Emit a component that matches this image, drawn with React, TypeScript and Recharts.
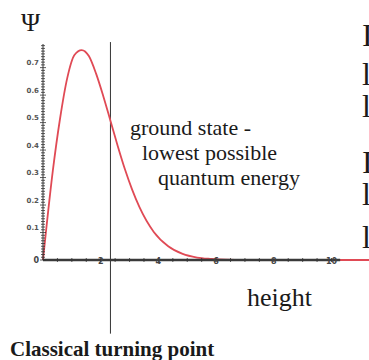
import React from "react";
import { LineChart, Line, XAxis, YAxis, ReferenceLine } from "recharts";

// ground-state wavefunction of a particle bouncing on a floor
const heights = [0, 0.1, 0.34, 0.59, 0.84, 1.09, 1.34, 1.59, 1.84, 2.09, 2.34, 2.59, 2.84, 3.09, 3.34, 3.84, 4.34, 4.84, 5.34, 5.84, 6.34, 7, 8, 9, 10, 10.3, 11.3];
const psi = [0, 0.1, 0.324, 0.514, 0.662, 0.746, 0.764, 0.742, 0.678, 0.596, 0.506, 0.415, 0.33, 0.256, 0.193, 0.102, 0.05, 0.022, 0.009, 0.004, 0.001, 0, 0, 0, 0, 0, 0];
// the floor (height axis) runs over the curve's tail and stops just past 10
const floor = [0, 0, 0, 0, 0, 0, 0, 0, 0, 0, 0, 0, 0, 0, 0, 0, 0, 0, 0, 0, 0, 0, 0, 0, 0, 0, null];

const turningPoint = 2.338;
const xLabels = [2, 4, 6, 8, 10];
const xTicks = [0.5, 1, 1.5, 2, 2.5, 3, 3.5, 4, 4.5, 5, 5.5, 6, 6.5, 7, 7.5, 8, 8.5, 9, 9.5, 10];
const yLabels = [0, 0.1, 0.2, 0.3, 0.4, 0.5, 0.6, 0.7];
// fine ruler marks every 0.01 along the psi axis
const yTicks = Array.from({ length: 79 }, (_, i) => i / 100);

const data = heights.map((h, i) => ({ h, psi: psi[i], floor: floor[i] }));

const serif = "Liberation Serif, DejaVu Serif, serif";
const tickFont = "DejaVu Sans, sans-serif";

function YTick({ x, y, payload }: any) {
  const v = payload.value as number;
  const major = yLabels.some((l) => Math.abs(l - v) < 1e-6);
  return (
    <g>
      <line x1={x - (major ? 3 : 2)} x2={x + (major ? 3 : 2)} y1={y} y2={y} stroke="#333" strokeWidth={0.8} />
      {major && v > 0 && (
        <text x={x - 4} y={y - 2.5} textAnchor="end" fontSize={7} fontWeight={700} fill="#555" style={{ fontFamily: tickFont }}>
          {v.toFixed(1)}
        </text>
      )}
      {v === 0 && (
        <text x={x - 4} y={y + 3} textAnchor="end" fontSize={8} fontWeight={700} fill="#444" style={{ fontFamily: tickFont }}>
          0
        </text>
      )}
    </g>
  );
}

function XTick({ x, y, payload }: any) {
  const v = payload.value as number;
  const labelled = xLabels.includes(v);
  return (
    <g>
      <line x1={x} x2={x} y1={y - 2} y2={y + 2} stroke="#333" strokeWidth={0.8} />
      {labelled && (
        <text x={x} y={y + 4} textAnchor="middle" fontSize={8} fontWeight={700} fill="#444" style={{ fontFamily: tickFont }}>
          {v}
        </text>
      )}
    </g>
  );
}

const sideLetters = [
  { t: "I", y: 46 },
  { t: "l", y: 85 },
  { t: "l", y: 117 },
  { t: "I", y: 173 },
  { t: "l", y: 205 },
  { t: "l", y: 248 },
];

const textStyle = { fontFamily: serif, fill: "#1a1a1a" };

export default function App() {
  return (
    <div style={{ position: "absolute", left: 0, top: 0, width: 369, height: 360, background: "#fff", overflow: "hidden" }}>
      <LineChart width={369} height={360} data={data} margin={{ top: 44, right: 0, bottom: 99, left: 42 }}>
        <XAxis
          type="number"
          dataKey="h"
          domain={[0, 11.3]}
          ticks={xTicks}
          interval={0}
          axisLine={false}
          tickLine={false}
          tickSize={0}
          tickMargin={0}
          height={1}
          tick={(p: any) => <XTick {...p} />}
        />
        <YAxis
          type="number"
          domain={[0, 0.786]}
          ticks={yTicks}
          interval={0}
          axisLine={{ stroke: "#333", strokeWidth: 1 }}
          tickLine={false}
          tickSize={0}
          tickMargin={0}
          width={1}
          tick={(p: any) => <YTick {...p} />}
        />
        <ReferenceLine
          segment={[{ x: turningPoint, y: 0.793 }, { x: turningPoint, y: -0.268 }]}
          stroke="#333"
          strokeWidth={1}
          ifOverflow="visible"
        />
        <Line
          type="monotone"
          dataKey="psi"
          stroke="#e04a55"
          strokeWidth={1.8}
          dot={false}
          isAnimationActive={false}
        />
        <Line
          type="linear"
          dataKey="floor"
          stroke="#3a3a3a"
          strokeWidth={2.4}
          dot={false}
          connectNulls={false}
          isAnimationActive={false}
        />
      </LineChart>
      <svg width={369} height={360} style={{ position: "absolute", left: 0, top: 0, pointerEvents: "none" }}>
        <text x={21} y={31} fontSize={26} style={textStyle}>Ψ</text>
        <text x={130} y={135} fontSize={22} style={textStyle}>ground state -</text>
        <text x={142} y={160} fontSize={22} style={textStyle}>lowest possible</text>
        <text x={158} y={185} fontSize={22} style={textStyle}>quantum energy</text>
        <text x={247} y={306} fontSize={26} style={textStyle}>height</text>
        <text x={10} y={356} fontSize={21} fontWeight={700} style={textStyle}>Classical turning point</text>
        {sideLetters.map((s, i) => (
          <text key={i} x={362} y={s.y} fontSize={32} style={textStyle}>{s.t}</text>
        ))}
      </svg>
    </div>
  );
}
